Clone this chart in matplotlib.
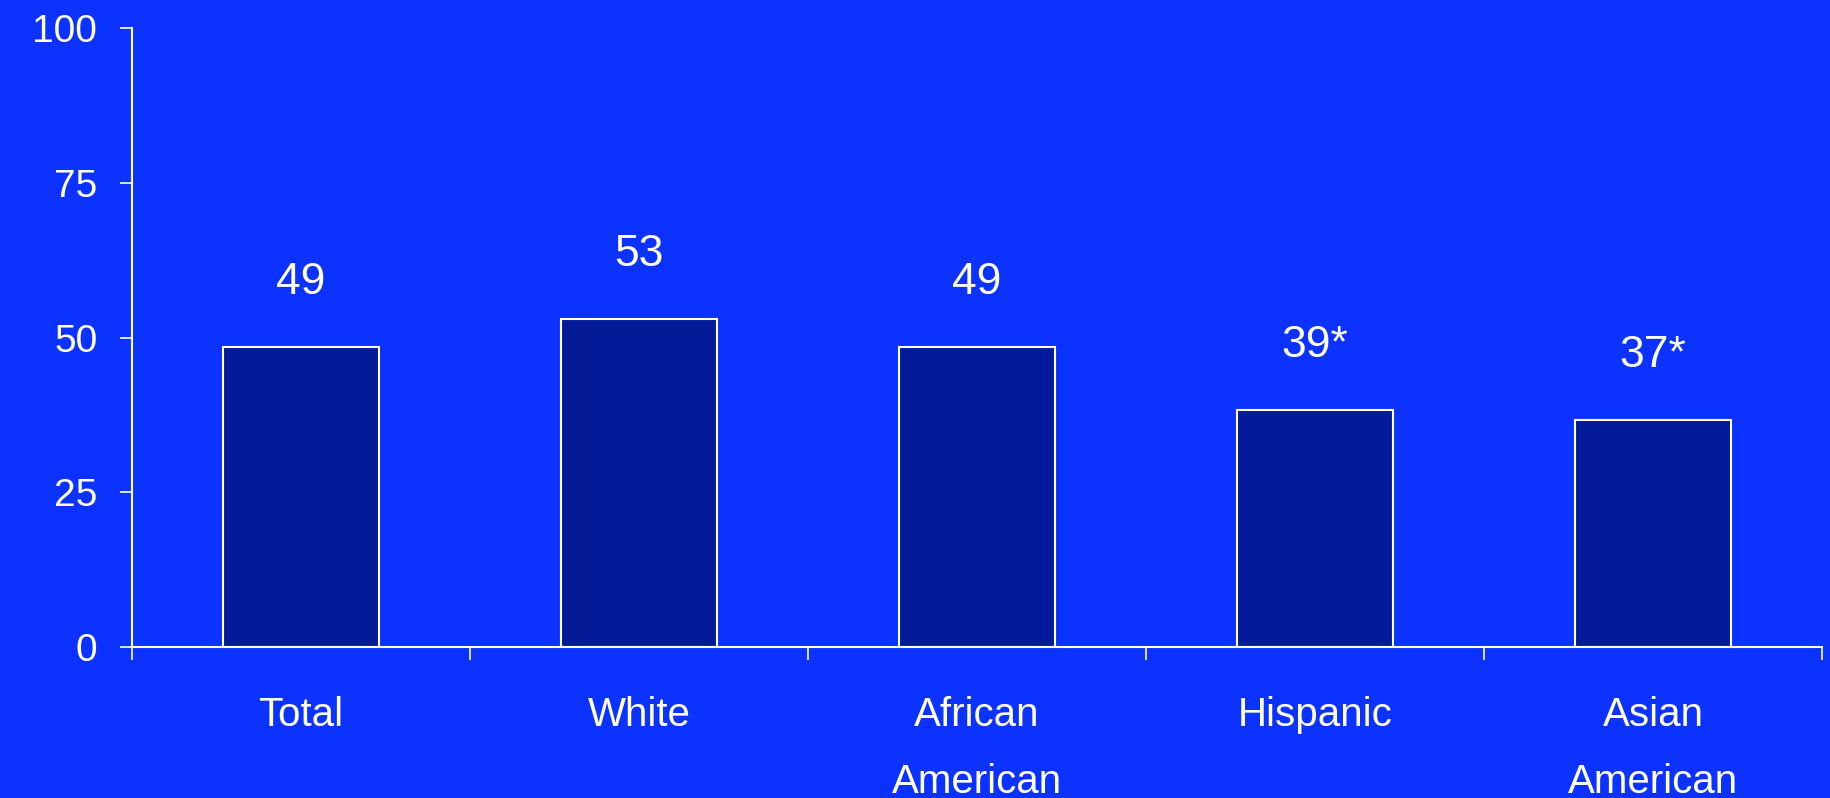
import matplotlib
matplotlib.use("Agg")
import matplotlib.pyplot as plt
from matplotlib.ticker import FixedLocator

plt.rcParams['font.family'] = ['Liberation Sans', 'DejaVu Sans']

categories = ["Total", "White", "African\nAmerican", "Hispanic", "Asian\nAmerican"]
bar_values = [48.5, 53.0, 48.5, 38.3, 36.7]
bar_labels = ["49", "53", "49", "39*", "37*"]
y_ticks = [0, 25, 50, 75, 100]

BG = "#0c32ff"
BAR = "#041b99"
FG = "white"

fig = plt.figure(figsize=(18.3, 7.98), dpi=100, facecolor=BG)
ax = fig.add_axes([132/1830, 1 - 647/798, (1822-132)/1830, (647-28)/798])
ax.set_facecolor(BG)

x = list(range(len(categories)))
ax.bar(x, bar_values, width=0.46, color=BAR, edgecolor=FG, linewidth=1.5, zorder=2)

for xi, v, lab in zip(x, bar_values, bar_labels):
    ax.text(xi, v + 8.5, lab, ha="center", va="baseline", color=FG, fontsize=32)

ax.set_xlim(-0.5, 4.5)
ax.set_ylim(0, 100)

for s in ["top", "right"]:
    ax.spines[s].set_visible(False)
for s in ["left", "bottom"]:
    ax.spines[s].set_color(FG)
    ax.spines[s].set_linewidth(1.5)

ax.set_yticks(y_ticks)
ax.set_yticklabels([str(t) for t in y_ticks])
ax.tick_params(axis="y", colors=FG, labelsize=28, length=9, width=1.2, direction="out", pad=16)

ax.set_xticks(x)
ax.set_xticklabels(categories, linespacing=1.97)
ax.xaxis.set_minor_locator(FixedLocator([i - 0.5 for i in range(len(categories) + 1)]))
ax.tick_params(axis="x", which="major", length=0, colors=FG, labelsize=29, pad=35)
ax.tick_params(axis="x", which="minor", length=9, width=1.2, colors=FG, direction="out")

fig.savefig("out.png", dpi=100, facecolor=BG)
